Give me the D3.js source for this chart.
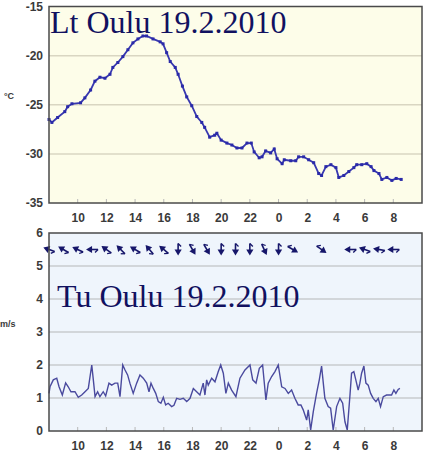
<!DOCTYPE html>
<html><head><meta charset="utf-8">
<script src="https://cdn.jsdelivr.net/npm/d3@7"></script>
<style>body{margin:0;background:#fff;} svg{display:block;}</style>
</head><body>
<script>
// ---- data ----
const hourTicks = [10,12,14,16,18,20,22,24,26,28,30,32];
const hourTickLabels = ["10","12","14","16","18","20","22","0","2","4","6","8"];
const tempTicks = [-15,-20,-25,-30,-35];
const windTicks = [0,1,2,3,4,5,6];

const tempHours = [8.0,8.2,8.6,9.1,9.3,9.6,10.2,10.5,10.9,11.2,11.55,11.9,12.25,12.45,12.8,13.15,13.5,13.85,14.2,14.55,14.8,15.25,15.75,15.95,16.2,16.45,16.8,17.0,17.3,17.6,17.95,18.3,18.65,18.85,19.2,19.55,19.7,20.0,20.4,20.75,21.1,21.45,21.8,22.1,22.3,22.65,22.85,23.1,23.45,23.7,23.9,24.25,24.4,24.85,25.2,25.4,25.75,26.1,26.45,26.8,27.0,27.3,27.65,28.0,28.2,28.55,28.9,29.25,29.45,29.8,30.15,30.45,30.65,31.0,31.2,31.55,31.9,32.2,32.55];
const tempValues = [-26.5,-26.8,-26.3,-25.7,-25.2,-24.9,-24.8,-24.3,-23.5,-22.6,-22.2,-22.3,-21.9,-21.2,-20.7,-20.1,-19.4,-18.7,-18.3,-18.0,-18.0,-18.3,-18.6,-18.8,-19.7,-20.6,-21.2,-21.9,-23.1,-24.2,-25.1,-26.2,-26.8,-27.3,-28.3,-28.1,-27.9,-28.6,-28.9,-29.1,-29.4,-29.4,-28.9,-28.9,-29.8,-30.4,-30.3,-29.7,-29.9,-29.5,-30.5,-31.0,-30.6,-30.7,-30.7,-30.3,-30.3,-30.6,-30.9,-32.0,-32.2,-31.3,-31.1,-31.4,-32.4,-32.2,-31.8,-31.4,-31.1,-31.1,-31.0,-31.3,-31.7,-32.0,-32.6,-32.4,-32.7,-32.5,-32.6];

const windHours = [8.0,8.07,8.3,8.54,8.7,8.93,9.16,9.34,9.53,9.81,10.04,10.28,10.51,10.74,10.98,11.09,11.21,11.39,11.55,11.78,11.95,12.18,12.37,12.6,12.79,12.95,13.14,13.3,13.48,13.64,13.87,14.11,14.34,14.57,14.81,14.97,15.11,15.27,15.44,15.62,15.8,15.97,16.13,16.31,16.55,16.71,16.9,17.13,17.36,17.6,17.83,18.06,18.29,18.52,18.75,18.87,18.99,19.1,19.34,19.57,19.8,19.97,20.15,20.33,20.5,20.73,21.03,21.31,21.66,22.01,22.2,22.43,22.66,22.89,23.12,23.28,23.52,23.75,23.98,24.22,24.45,24.68,24.91,25.14,25.37,25.56,25.72,25.96,26.07,26.24,26.42,26.65,26.84,27.0,27.12,27.23,27.46,27.63,27.81,28.05,28.28,28.47,28.63,28.79,28.98,29.09,29.25,29.44,29.55,29.67,29.79,29.95,30.09,30.25,30.42,30.6,30.79,30.95,31.11,31.3,31.53,31.88,32.04,32.18,32.34,32.46];
const windValues = [1.14,1.34,1.55,1.6,1.34,1.09,1.46,1.34,1.19,1.19,1.02,1.09,1.19,1.29,2.0,1.55,1.04,1.19,1.04,1.19,1.06,1.45,1.39,1.45,1.45,1.04,2.0,1.85,1.7,1.45,1.14,1.45,1.7,1.6,1.45,1.19,1.45,1.29,1.14,0.89,0.84,1.02,0.79,0.84,0.74,0.78,0.99,0.96,0.99,0.89,0.99,1.29,1.19,1.09,1.45,1.09,1.55,1.39,1.6,1.49,1.8,2.0,1.75,1.14,1.45,1.24,1.04,1.6,1.85,2.0,1.55,1.45,1.9,2.0,0.94,1.45,1.65,1.8,2.0,1.34,1.29,1.14,1.24,0.99,0.79,0.79,0.64,0.33,0.64,0.03,0.58,1.14,1.55,1.97,1.45,0.99,0.74,0.69,0.03,0.74,0.99,0.84,0.28,0.03,1.09,1.75,1.8,1.45,1.24,1.45,1.75,1.97,1.45,1.39,1.14,0.99,0.89,0.99,0.74,1.04,1.09,1.09,1.24,1.14,1.26,1.29];

// wind direction arrows (screen angle the arrow points: 0 = right, 90 = down, 180 = left)
const arrowHours  = [8,9,10,11,12,13,14,15,16,17,18,19,20,21,22,23,24,25,27,29,30,31,32];
const arrowAngles = [200,210,205,180,215,225,210,230,220,90,60,60,90,90,90,65,90,30,35,180,200,190,180];
const arrowLevel = 5.5;

// ---- layout ----
const W = 429, H = 454;
const svg = d3.select("body").append("svg").attr("width", W).attr("height", H);
const x0 = 49, x1 = 422;
const x = d3.scaleLinear().domain([8, 34]).range([x0, x1]);
const yT = d3.scaleLinear().domain([-35, -15]).range([203, 6.5]);
const yW = d3.scaleLinear().domain([0, 6]).range([431, 233]);

const labelFont = "Arial, 'Liberation Sans', sans-serif";
const tickColor = "#3a3a3a";

function panel(y, bg, grid, ticks, fmt) {
  const [yb, yt] = y.range();
  svg.append("rect").attr("x", x0).attr("y", yt).attr("width", x1 - x0).attr("height", yb - yt).attr("fill", bg);
  svg.append("g").selectAll("line").data(ticks.filter(t => y(t) > yt + 1 && y(t) < yb - 1)).join("line")
    .attr("x1", x0).attr("x2", x1).attr("y1", d => y(d)).attr("y2", d => y(d))
    .attr("stroke", grid).attr("stroke-width", 1.5);
  const ya = d3.axisLeft(y).tickValues(ticks).tickSize(0).tickPadding(6).tickFormat(fmt);
  const g = svg.append("g").attr("transform", `translate(${x0},0)`).call(ya);
  g.select(".domain").remove();
  g.selectAll("text").attr("font-family", labelFont).attr("font-weight", "bold").attr("font-size", 12).attr("fill", tickColor);
  const xa = d3.axisBottom(x).tickValues(hourTicks).tickSize(0).tickPadding(10)
    .tickFormat((d, i) => hourTickLabels[i]);
  const gx = svg.append("g").attr("transform", `translate(0,${yb})`).call(xa);
  gx.select(".domain").remove();
  gx.selectAll("text").attr("font-family", labelFont).attr("font-weight", "bold").attr("font-size", 12).attr("fill", tickColor);
  svg.append("g").selectAll("line").data(hourTicks).join("line")
    .attr("x1", d => x(d)).attr("x2", d => x(d)).attr("y1", yb).attr("y2", yb - 4)
    .attr("stroke", "#b8b8b8").attr("stroke-width", 1);
  return { yb, yt };
}

const pT = panel(yT, "#fdfde9", "#d9d6c2", tempTicks, d => d);
const pW = panel(yW, "#eff5fc", "#c9cbcf", windTicks, d => d);

svg.append("text").attr("x", 4).attr("y", 99).text("°C")
  .attr("font-family", labelFont).attr("font-weight", "bold").attr("font-size", 9).attr("fill", tickColor);
svg.append("text").attr("x", 0).attr("y", 327).text("m/s")
  .attr("font-family", labelFont).attr("font-weight", "bold").attr("font-size", 9).attr("fill", tickColor);

svg.append("text").attr("x", 50).attr("y", 33).text("Lt Oulu 19.2.2010")
  .attr("font-family", "'Liberation Serif', 'Times New Roman', serif").attr("font-size", 32).attr("fill", "#111160");
svg.append("text").attr("x", 57).attr("y", 307).text("Tu Oulu 19.2.2010")
  .attr("font-family", "'Liberation Serif', 'Times New Roman', serif").attr("font-size", 32).attr("fill", "#111160");

const tData = tempHours.map((h, i) => [h, tempValues[i]]);
svg.append("path").datum(tData)
  .attr("d", d3.line().x(d => x(d[0])).y(d => yT(d[1])))
  .attr("fill", "none").attr("stroke", "#3838b0").attr("stroke-width", 1.8);
svg.append("g").selectAll("rect").data(tData).join("rect")
  .attr("x", d => x(d[0]) - 1.5).attr("y", d => yT(d[1]) - 1.5).attr("width", 3).attr("height", 3)
  .attr("fill", "#2a2aa8");

const wData = windHours.map((h, i) => [h, windValues[i]]);
svg.append("path").datum(wData)
  .attr("d", d3.line().x(d => x(d[0])).y(d => yW(d[1])))
  .attr("fill", "none").attr("stroke", "#4a4a9e").attr("stroke-width", 1.4);

const ag = svg.append("g");
arrowHours.forEach((h, i) => {
  const g = ag.append("g").attr("transform", `translate(${x(h)},${yW(arrowLevel)}) rotate(${arrowAngles[i]})`);
  g.append("line").attr("x1", -6).attr("x2", 2).attr("y1", 0).attr("y2", 0).attr("stroke", "#16166a").attr("stroke-width", 1.6);
  g.append("path").attr("d", "M6,0 L0,-3.6 L0,3.6 Z").attr("fill", "#16166a");
  g.append("line").attr("x1", -6).attr("x2", -3).attr("y1", 0).attr("y2", -3).attr("stroke", "#16166a").attr("stroke-width", 1.3);
});

[pT, pW].forEach(p => {
  svg.append("rect").attr("x", x0).attr("y", p.yt).attr("width", x1 - x0).attr("height", p.yb - p.yt)
    .attr("fill", "none").attr("stroke", "#4a4a4a").attr("stroke-width", 1.5);
});
</script>
</body></html>
